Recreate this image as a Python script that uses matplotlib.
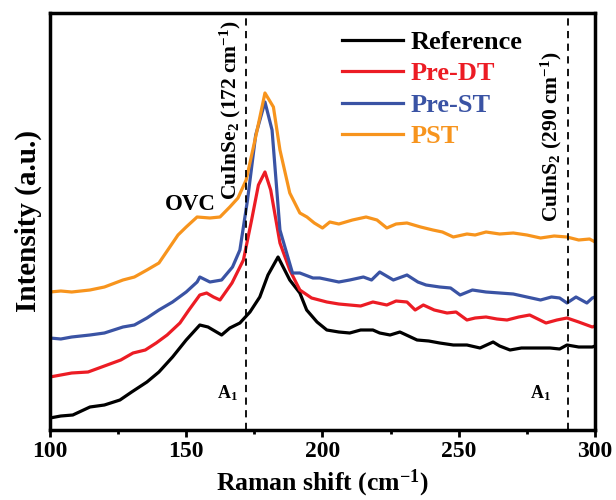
import matplotlib
matplotlib.use("Agg")
import matplotlib.pyplot as plt
from matplotlib.ticker import MultipleLocator

plt.rcParams['font.family'] = 'Liberation Serif'
plt.rcParams['font.weight'] = 'bold'
plt.rcParams['mathtext.fontset'] = 'custom'
plt.rcParams['mathtext.rm'] = 'Liberation Serif:bold'
plt.rcParams['mathtext.default'] = 'rm'

# Raman spectra (arbitrary intensity, curves are offset)
ref_x = [100, 104, 108.4, 114.7, 120, 125.7, 130, 135.6, 140, 145, 150, 155, 158, 163, 166, 169.7,
         173.4, 177, 180, 183.7, 188, 191.7, 194.2, 198, 201.6, 206, 210, 214, 218.5, 221, 224.8, 228.4,
         234.7, 239, 243, 248, 253, 257.8, 262.6, 265, 268.8, 273, 277, 283.5, 287, 289.7, 294, 299, 300]
ref_y = [12, 14, 15, 23, 25, 30, 38, 48, 58, 73, 90, 105, 103, 95, 102, 107,
         118, 133, 155, 173, 150, 137, 120, 108, 100, 98, 97, 100, 100, 97, 95, 98,
         90, 89, 87, 85, 85, 82, 88, 84, 80, 82, 82, 82, 81, 85, 83, 83, 84]

dt_x = [100, 104, 108, 114, 121, 126, 130.5, 135, 139, 143, 147.7, 151, 155, 157.5, 160, 162.4, 166.8, 171,
        174, 176.5, 178.9, 181, 184.4, 188, 191.7, 196, 201.6, 206, 210, 214, 218.5, 223.6, 227, 231, 234,
        237, 241, 245.7, 249, 253, 256, 260, 264, 267.7, 272, 276, 282, 286, 289.7, 294, 299, 300]
dt_y = [53, 55, 57, 58, 65, 70, 77, 80, 87, 95, 107, 120, 135, 137, 133, 130, 147, 170,
        210, 245, 258, 240, 187, 160, 140, 132, 128, 126, 125, 124, 128, 125, 129, 128, 120,
        125, 120, 117, 118, 110, 112, 113, 111, 110, 113, 115, 107, 110, 112, 108, 103, 104]

st_x = [100, 104, 108, 114.7, 120, 126.8, 131, 135.6, 140, 145, 150, 154, 155, 158.7, 163, 167, 169.7,
        172.5, 175.5, 178.9, 181.5, 184.4, 189, 191.7, 196.5, 199, 206, 210, 215, 218, 221, 226, 231,
        235, 238, 243, 247, 250.5, 255, 260, 265, 270, 275, 280, 284, 287, 289.7, 293, 297, 299, 300]
st_y = [92, 91, 93, 95, 97, 103, 105, 112, 120, 128, 138, 148, 153, 148, 150, 163, 180,
        230, 295, 328, 300, 200, 157, 157, 152, 152, 148, 150, 153, 150, 158, 150, 155,
        148, 145, 143, 142, 135, 140, 138, 137, 136, 133, 130, 133, 132, 127, 133, 127, 132, 133]

pst_x = [100, 104, 108, 114.7, 120, 126.8, 131, 135.6, 140, 144, 147, 150, 154, 158.7, 162.4, 166, 169,
         172, 175.8, 178.9, 182, 184.4, 188, 191.7, 194.3, 197, 200, 202.7, 206, 211, 216, 220, 223.6,
         227, 231, 236, 240.5, 244, 248, 253, 256, 260, 265, 270, 275, 280, 285, 289.7, 294, 298, 300]
pst_y = [138, 139, 138, 140, 143, 150, 153, 160, 167, 183, 195, 203, 213, 212, 213, 223, 232,
         250, 297, 337, 323, 280, 237, 217, 213, 207, 202, 208, 206, 210, 213, 210, 202,
         206, 207, 203, 200, 198, 193, 196, 195, 198, 196, 197, 195, 192, 194, 193, 190, 191, 188]

labels = ['Reference', 'Pre-DT', 'Pre-ST', 'PST']
colors = ['#000000', '#EC1C24', '#3A53A4', '#F7941D']
xs = [ref_x, dt_x, st_x, pst_x]
ys = [ref_y, dt_y, st_y, pst_y]

fig = plt.figure(figsize=(6.16, 5.0), dpi=100)
ax = fig.add_axes([0.081, 0.14, 0.885, 0.834])

for x, y, c, lab in zip(xs, ys, colors, labels):
    ax.plot(x, y, color=c, lw=2.3, label=lab)

ax.axvline(172, color='black', ls=(0, (4, 3)), lw=1.3)
ax.axvline(290, color='black', ls=(0, (4, 3)), lw=1.3)

ax.set_xlim(100, 300)
ax.set_ylim(0, 417)
ax.xaxis.set_major_locator(MultipleLocator(50))
ax.xaxis.set_minor_locator(MultipleLocator(25))
ax.set_yticks([])
ax.tick_params(axis='x', which='major', length=5, width=2, labelsize=17, direction='out', pad=3)
ax.tick_params(axis='x', which='minor', length=3, width=2, direction='out')
for s in ax.spines.values():
    s.set_linewidth(2.5)

ax.set_xlabel('Raman shift (cm$^{-1}$)', fontsize=18.5, fontweight='bold', labelpad=4)
ax.set_ylabel('Intensity (a.u.)', fontsize=21, fontweight='bold', labelpad=6)

ax.text(151.4, 225, 'OVC', fontsize=16.5, fontweight='bold', ha='center', va='center')
ax.text(170.8, 230, 'CuInSe$_2$ (172 cm$^{-1}$)', rotation=90, fontsize=15.5, fontweight='bold',
        ha='right', va='bottom')
ax.text(288.5, 208, 'CuInS$_2$ (290 cm$^{-1}$)', rotation=90, fontsize=15.5, fontweight='bold',
        ha='right', va='bottom')
ax.text(165, 37, 'A$_1$', fontsize=13, fontweight='bold', ha='center', va='center')
ax.text(280, 37, 'A$_1$', fontsize=13, fontweight='bold', ha='center', va='center')

leg = ax.legend(loc='upper left', bbox_to_anchor=(0.493, 1.015), frameon=False, fontsize=19,
                handlelength=2.3, handletextpad=0.3, labelspacing=0.3)
for t, c in zip(leg.get_texts(), colors):
    t.set_color(c)
    t.set_fontweight('bold')

fig.savefig('out.png', dpi=100)
